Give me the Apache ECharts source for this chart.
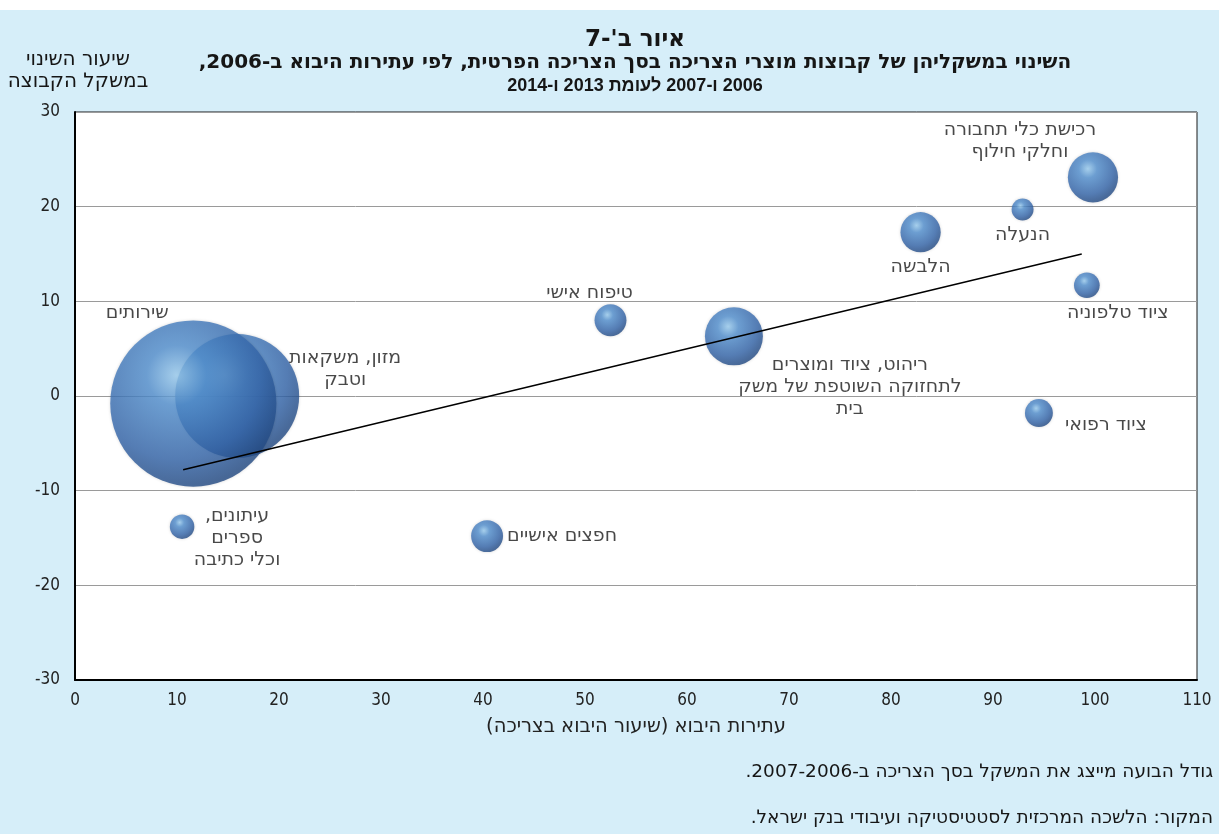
<!DOCTYPE html>
<html>
<head>
<meta charset="utf-8">
<script src="https://cdn.jsdelivr.net/npm/echarts@6/dist/echarts.min.js"></script>
<style>
  html, body { margin: 0; padding: 0; background: #fff; }
  #chart { width: 1219px; height: 834px; background: linear-gradient(#ffffff 0, #ffffff 10px, #d6eef9 10px); }
</style>
</head>
<body>
<div id="chart"></div>
<script>
// ---- data ----
const categories = [
  'מזון, משקאות\nוטבק',
  'שירותים',
  'עיתונים,\nספרים\nוכלי כתיבה',
  'חפצים אישיים',
  'טיפוח אישי',
  'ריהוט, ציוד ומוצרים\nלתחזוקה השוטפת של משק\nבית',
  'הלבשה',
  'הנעלה',
  'רכישת כלי תחבורה\nוחלקי חילוף',
  'ציוד טלפוניה',
  'ציוד רפואי'
];
const importIntensity = [15.9, 11.6, 10.5, 40.4, 52.5, 64.6, 82.9, 92.9, 99.8, 99.2, 94.5];
const weightChange   = [0.0, -0.8, -13.8, -14.8, 8.0, 6.3, 17.3, 19.7, 23.1, 11.7, -1.8];
const consumptionWeight = [25.6, 46, 1.0, 1.7, 1.7, 5.6, 2.7, 0.8, 4.2, 1.1, 1.3];
const trendX = [10.6, 98.7];
const trendY = [-7.8, 15.0];
const xTicks = [0, 10, 20, 30, 40, 50, 60, 70, 80, 90, 100, 110];
const yTicks = [-30, -20, -10, 0, 10, 20, 30];

const titleLines = ["איור ב'-7", 'השינוי במשקליהן של קבוצות מוצרי הצריכה בסך הצריכה הפרטית, לפי עתירות היבוא ב-2006,', '2006 ו-2007 לעומת 2013 ו-2014'];
const yAxisTitle = ['שיעור השינוי', 'במשקל הקבוצה'];
const xAxisTitle = 'עתירות היבוא (שיעור היבוא בצריכה)';
const notes = ['גודל הבועה מייצג את המשקל בסך הצריכה ב-2006-2007.', 'המקור: הלשכה המרכזית לסטטיסטיקה ועיבודי בנק ישראל.'];

// ---- layout (label offsets in px from bubble centre) ----
const labelOffsets = [[108, -27], [-56, -91], [55, 11], [75, 0], [-21, -27], [116, 51], [0, 35], [0, 26], [-73, -36], [31, 28], [67, 12]];

// right-to-left embedding, line by line
const R = s => s.split('\n').map(l => '\u202B' + l + '\u202C').join('\n');
// the reference's footnote shows the two years as separate right-to-left items
const RTLNUM = s => '\u202B' + s.replace(/(\d)-(\d)/g, '$1\u200F-$2') + '\u202C';

const FONT = "'DejaVu Sans', 'Liberation Sans', sans-serif";
const FONT2 = "'Liberation Sans', 'DejaVu Sans', sans-serif";
const NUMFONT = "'DejaVu Sans Condensed', 'DejaVu Sans', sans-serif";

function textEl(str, x, y, size, weight, align, family) {
  return {
    type: 'text', x: x, y: y, silent: true,
    style: {
      text: str, align: align, verticalAlign: 'middle',
      fontFamily: family || FONT, fontSize: size, fontWeight: weight, fill: '#161616'
    }
  };
}

const bubbleColor = {
  type: 'radial', x: 0.4, y: 0.33, r: 0.72,
  colorStops: [
    { offset: 0, color: '#9acdf1' },
    { offset: 0.25, color: '#5290d0' },
    { offset: 0.7, color: '#3466ab' },
    { offset: 1, color: '#1f457d' }
  ]
};

const LABEL_SIZE = 19;
const scatterData = categories.map((c, i) => ({
  name: c,
  value: [importIntensity[i], weightChange[i], consumptionWeight[i]],
  label: { show: true, position: 'inside', offset: labelOffsets[i], formatter: R(c) }
}));

const chart = echarts.init(document.getElementById('chart'), null, { renderer: 'canvas' });
chart.setOption({
  backgroundColor: 'transparent',
  animation: false,
  grid: {
    left: 75, right: 22, top: 112, bottom: 154,
    show: true, backgroundColor: '#ffffff', borderColor: '#1a1a1a', borderWidth: 1
  },
  xAxis: {
    type: 'value', min: xTicks[0], max: xTicks[xTicks.length - 1], interval: 10,
    axisLine: { show: true, onZero: false, lineStyle: { color: '#000', width: 2 } },
    axisTick: { show: false },
    splitLine: { show: false },
    axisLabel: { color: '#222', fontFamily: NUMFONT, fontSize: 17, margin: 12 },
    name: R(xAxisTitle), nameLocation: 'middle', nameGap: 37,
    nameTextStyle: { color: '#222', fontFamily: FONT, fontSize: 19.5 }
  },
  yAxis: {
    type: 'value', min: yTicks[0], max: yTicks[yTicks.length - 1], interval: 10,
    axisLine: { show: true, onZero: false, lineStyle: { color: '#000', width: 2 } },
    axisTick: { show: false },
    splitLine: { show: true, lineStyle: { color: '#9a9a9a', width: 1 } },
    axisLabel: { color: '#222', fontFamily: NUMFONT, fontSize: 17, margin: 15 }
  },
  graphic: [
    textEl(R(titleLines[0]), 635, 40, 23, 'bold', 'center'),
    textEl(R(titleLines[1]), 635, 63, 20, 'bold', 'center'),
    textEl(R(titleLines[2]), 635, 86, 18, 'bold', 'center', FONT2),
    textEl(R(yAxisTitle[0]), 78, 60, 20, 'normal', 'center'),
    textEl(R(yAxisTitle[1]), 78, 82, 20, 'normal', 'center'),
    textEl(RTLNUM(notes[0]), 1213, 772, 18.5, 'normal', 'right'),
    textEl(R(notes[1]), 1213, 818, 18.5, 'normal', 'right')
  ],
  series: [
    {
      type: 'scatter',
      silent: true,
      data: scatterData,
      symbol: 'circle',
      symbolSize: v => 24.5 * Math.sqrt(v[2]),
      itemStyle: { color: bubbleColor, shadowBlur: 3, shadowColor: 'rgba(0,0,0,0.2)' },
      label: {
        color: '#1a1a1a', fontFamily: FONT, fontSize: LABEL_SIZE, lineHeight: 22, align: 'center', verticalAlign: 'middle'
      },
      z: 2
    },
    {
      type: 'line',
      silent: true,
      data: trendX.map((x, i) => [x, trendY[i]]),
      symbol: 'none',
      lineStyle: { color: '#000', width: 1.5 },
      z: 4
    }
  ]
});
</script>
</body>
</html>
